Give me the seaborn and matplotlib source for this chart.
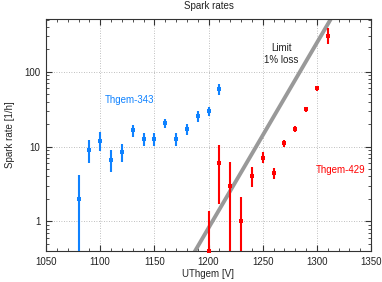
import numpy as np
import pandas as pd
import seaborn as sns
import matplotlib
matplotlib.use("Agg")
import matplotlib.pyplot as plt
from matplotlib.ticker import MultipleLocator, LogLocator, NullFormatter, FixedLocator

# données
u_343 = [1080, 1090, 1100, 1110, 1120, 1130, 1140, 1150, 1160, 1170, 1180, 1190, 1200, 1210]
rate_343 = [2.0, 9.0, 12.0, 6.6, 8.5, 16.5, 12.6, 12.6, 20.5, 12.6, 17.2, 25.4, 29.5, 59.0]
err_lo_343 = [0.0, 6.0, 8.6, 4.5, 6.3, 13.5, 10.2, 10.2, 17.5, 10.2, 14.3, 21.5, 25.5, 49.0]
err_hi_343 = [4.2, 12.4, 15.8, 9.0, 10.9, 19.5, 15.2, 15.2, 23.5, 15.2, 20.2, 29.5, 34.0, 69.0]

u_429 = [1200, 1210, 1220, 1230, 1240, 1250, 1260, 1270, 1280, 1290, 1300, 1310]
rate_429 = [0.4, 6.0, 3.0, 1.0, 4.0, 7.1, 4.4, 11.0, 17.0, 31.5, 60.0, 300.0]
err_lo_429 = [0.0, 1.7, 0.0, 0.0, 2.9, 6.0, 3.7, 10.0, 15.5, 29.0, 55.0, 238.0]
err_hi_429 = [1.37, 10.6, 6.3, 2.1, 5.4, 8.5, 5.2, 12.2, 18.6, 34.0, 65.0, 390.0]

limit_u = [1185, 1315]
limit_rate = [0.345, 575]

bleu = "#0f82ff"
rouge = "#ff0000"

sns.set_style("ticks")
plt.rcParams["font.family"] = ["Liberation Sans", "DejaVu Sans"]
plt.rcParams["font.size"] = 7
plt.rcParams["text.color"] = "#222222"

fig = plt.figure(figsize=(3.82, 2.82), dpi=100)
ax = fig.add_axes([46 / 382, 1 - 251 / 282, 325 / 382, 232 / 282])

# ligne limite
df_lim = pd.DataFrame({"u": limit_u, "rate": limit_rate})
sns.lineplot(data=df_lim, x="u", y="rate", ax=ax, color="#999999", linewidth=2.8, zorder=2)

# barres d'erreur
def barres(u, r, lo, hi, c):
    r = np.array(r)
    lo_e = r - np.maximum(np.array(lo), 1e-3)
    hi_e = np.array(hi) - r
    ax.errorbar(u, r, yerr=[lo_e, hi_e], fmt="none", ecolor=c, elinewidth=1.5,
                capsize=0, zorder=3)

barres(u_343, rate_343, err_lo_343, err_hi_343, bleu)
barres(u_429, rate_429, err_lo_429, err_hi_429, rouge)

df1 = pd.DataFrame({"u": u_343, "rate": rate_343})
df2 = pd.DataFrame({"u": u_429, "rate": rate_429})
sns.scatterplot(data=df1, x="u", y="rate", ax=ax, marker="s", s=11, color=bleu,
                edgecolor=bleu, linewidth=0, zorder=4)
sns.scatterplot(data=df2, x="u", y="rate", ax=ax, marker="s", s=11, color=rouge,
                edgecolor=rouge, linewidth=0, zorder=4, clip_on=False)

ax.set_yscale("log")
ax.set_xlim(1050, 1350)
ax.set_ylim(0.4, 510)

ax.xaxis.set_major_locator(MultipleLocator(50))
ax.xaxis.set_minor_locator(MultipleLocator(10))
ax.yaxis.set_major_locator(FixedLocator([1, 10, 100]))
ax.yaxis.set_major_formatter(matplotlib.ticker.FuncFormatter(lambda v, p: f"{v:g}"))
ax.yaxis.set_minor_locator(LogLocator(base=10, subs=np.arange(2, 10)))
ax.yaxis.set_minor_formatter(NullFormatter())

ax.tick_params(which="both", direction="in", top=True, right=True, colors="#333333",
               labelcolor="#222222", labelsize=7)
ax.tick_params(which="major", length=4, width=0.8, pad=4)
ax.tick_params(which="minor", length=2.5, width=0.6)
ax.grid(True, which="major", linestyle=(0, (1, 2)), color="#aaaaaa", linewidth=0.6)
for s in ax.spines.values():
    s.set_color("#333333")
    s.set_linewidth(0.8)

ax.set_title("Spark rates", fontsize=7, pad=7)
ax.set_xlabel("UThgem [V]", fontsize=7, labelpad=2)
ax.set_ylabel("Spark rate [1/h]", fontsize=7, labelpad=7)

ax.text(1127, 42, "Thgem-343", color=bleu, fontsize=7, ha="center", va="center")
ax.text(1322, 4.9, "Thgem-429", color=rouge, fontsize=7, ha="center", va="center")
ax.text(1267, 173, "Limit\n1% loss", color="#222222", fontsize=7, ha="center",
        va="center", linespacing=1.3)

plt.savefig("out.png", dpi=100)
